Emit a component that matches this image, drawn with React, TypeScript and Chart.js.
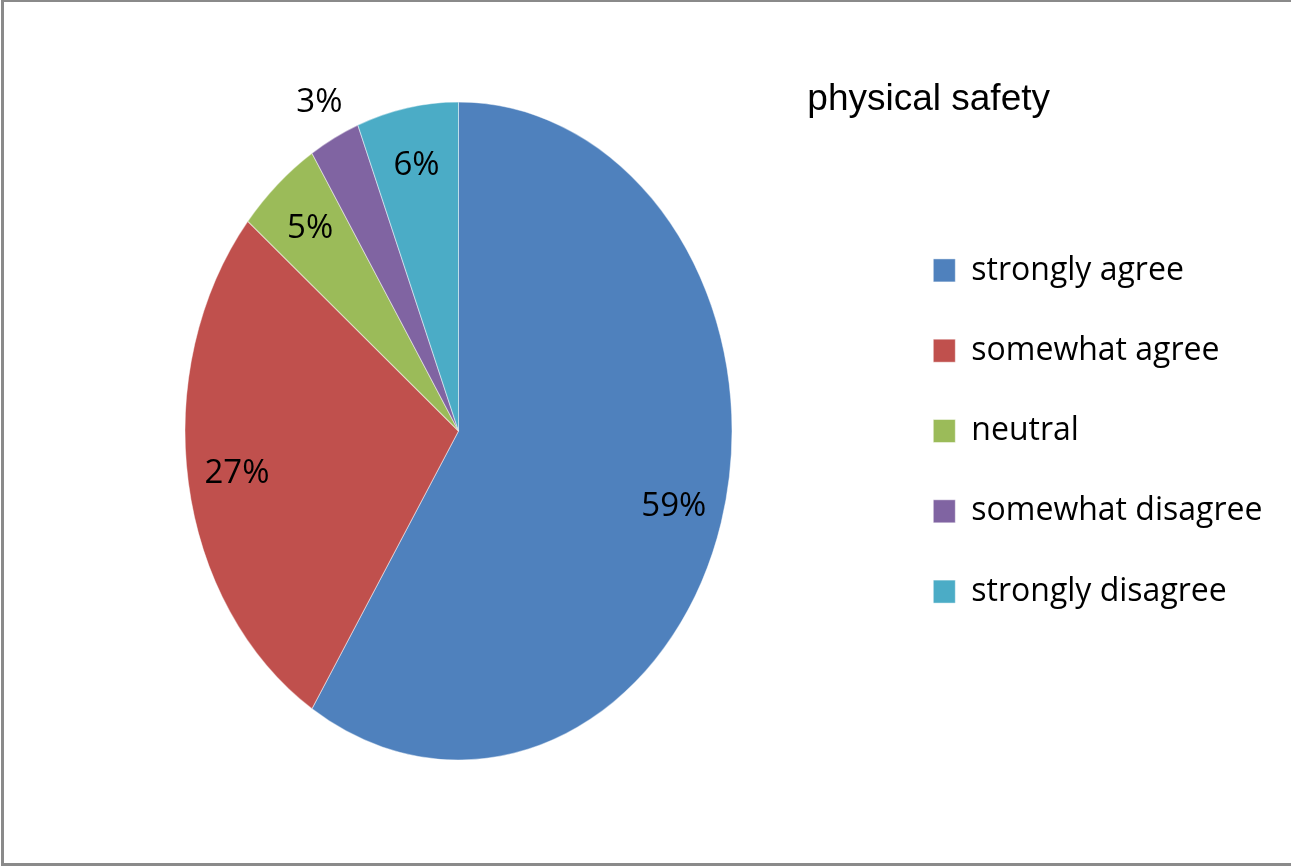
import React, { useEffect, useRef } from 'react';
import { Chart, registerables } from 'chart.js';

Chart.register(...registerables);

// ---- data ----
const categories = ['strongly agree', 'somewhat agree', 'neutral', 'somewhat disagree', 'strongly disagree'];
const values = [59, 27, 5, 3, 6];
const titleText = 'physical safety';

// ---- styles ----
const sliceColors = ['#4F81BD', '#C0504D', '#9BBB59', '#8064A2', '#4BACC6'];
const Y_STRETCH = 1.203; // the reference pie is an upright ellipse
const INSIDE_FRACTION = 0.82;
const OUTSIDE_FRACTION = 1.12;
const MIN_INSIDE_VALUE = 4;
const LABEL_FONT = '33px "Open Sans"';

const ellipsePiePlugin = {
  id: 'ellipsePie',
  afterLayout(chart: any) {
    // let the legend text run past its (narrow) layout box instead of being clipped
    if (chart.legend) chart.legend.right = chart.width;
  },
  beforeDatasetsDraw(chart: any) {
    const arc = chart.getDatasetMeta(0).data[0];
    const ctx = chart.ctx;
    ctx.save();
    if (!arc) return;
    // left-align the pie inside the chart area and stretch it vertically
    const tx = chart.chartArea.left + arc.outerRadius;
    ctx.translate(tx, arc.y);
    ctx.scale(1, Y_STRETCH);
    ctx.translate(-arc.x, -arc.y);
  },
  afterDatasetsDraw(chart: any) {
    const ctx = chart.ctx;
    ctx.restore();
    const meta = chart.getDatasetMeta(0);
    if (!meta.data.length) return;
    ctx.save();
    ctx.font = LABEL_FONT;
    ctx.fillStyle = '#000000';
    ctx.textAlign = 'center';
    ctx.textBaseline = 'middle';
    meta.data.forEach((el: any, i: number) => {
      const { y, startAngle, endAngle, outerRadius } = el;
      const tx = chart.chartArea.left + outerRadius;
      const mid = (startAngle + endAngle) / 2;
      const f = values[i] < MIN_INSIDE_VALUE ? OUTSIDE_FRACTION : INSIDE_FRACTION;
      const dx = Math.cos(mid) * outerRadius * f;
      const dy = Math.sin(mid) * outerRadius * f;
      ctx.fillText(`${values[i]}%`, tx + dx, y + dy * Y_STRETCH);
    });
    ctx.restore();
  },
};

export default function App() {
  const canvasRef = useRef<HTMLCanvasElement>(null);

  useEffect(() => {
    document.body.style.margin = '0';
    const canvas = canvasRef.current;
    if (!canvas) return;
    const chart = new Chart(canvas, {
      type: 'pie',
      data: {
        labels: categories,
        datasets: [
          {
            data: values,
            backgroundColor: sliceColors,
            borderColor: 'rgba(255,255,255,0.45)',
            borderWidth: 1,
          },
        ],
      },
      options: {
        responsive: true,
        maintainAspectRatio: false,
        animation: false,
        events: [],
        layout: { padding: { left: 185, right: 241, top: 0, bottom: 161 } },
        plugins: {
          title: {
            display: true,
            text: titleText,
            align: 'end',
            color: '#000000',
            font: { family: '"Liberation Sans", Arial, sans-serif', size: 37, weight: 'normal', lineHeight: 1.2 },
            padding: { top: 78, bottom: 34.6 },
          },
          legend: {
            display: true,
            position: 'right',
            align: 'center',
            fullSize: false,
            maxWidth: 165,
            labels: {
              boxWidth: 22,
              boxHeight: 23,
              padding: 48.3,
              color: '#000000',
              font: { family: '"Open Sans", sans-serif', size: 32 },
            },
          },
          tooltip: { enabled: false },
        },
      },
      plugins: [ellipsePiePlugin],
    });
    return () => chart.destroy();
  }, []);

  return (
    <div style={{ position: 'absolute', left: 0, top: 0, width: 1291, height: 866, background: '#ffffff' }}>
      <canvas ref={canvasRef} style={{ display: 'block' }} />
      <div
        style={{
          position: 'absolute',
          left: 1,
          top: 0,
          right: 0,
          bottom: 0,
          borderLeft: '3px solid #8a8a8a',
          borderTop: '2px solid #8a8a8a',
          borderBottom: '3px solid #8a8a8a',
          pointerEvents: 'none',
        }}
      />
    </div>
  );
}
